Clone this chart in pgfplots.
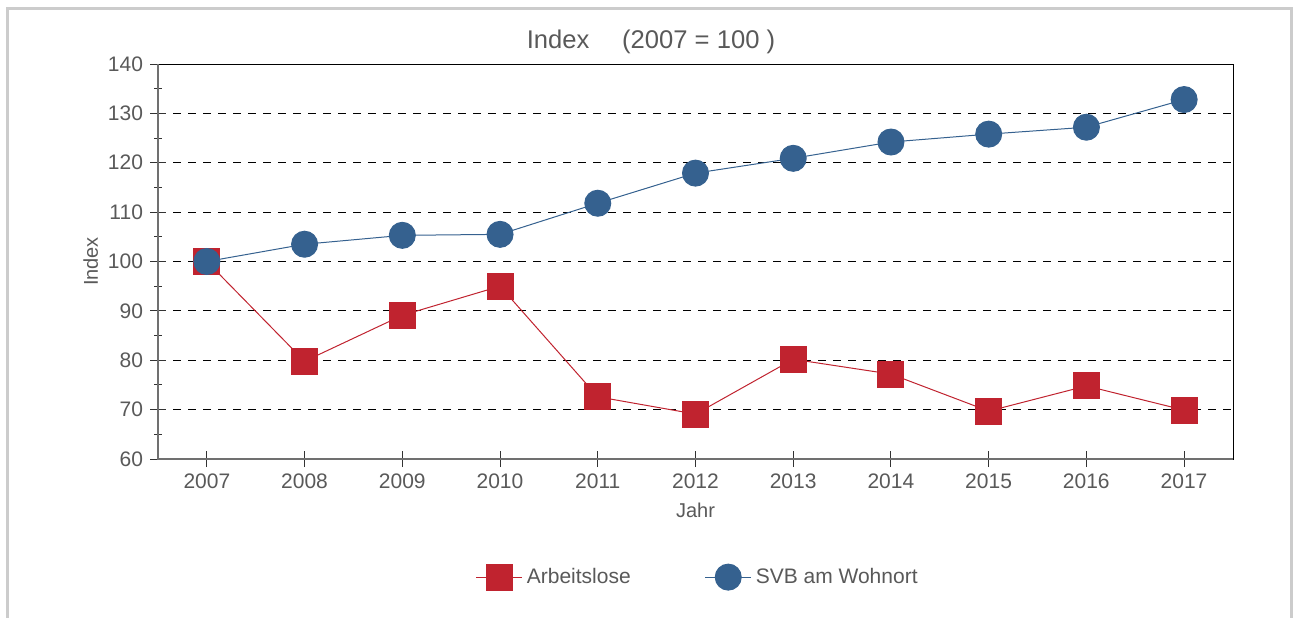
\documentclass[border=0pt]{standalone}
\usepackage{fontspec}
\setmainfont{Liberation Sans}
\usepackage{pgfplots}
\pgfplotsset{compat=1.18}
\definecolor{txtgray}{RGB}{89,89,89}
\definecolor{arbred}{RGB}{192,35,47}
\definecolor{svbblue}{RGB}{53,97,143}
\definecolor{framegray}{RGB}{204,204,204}
\definecolor{axgray}{RGB}{112,112,112}

\begin{document}
\begin{tikzpicture}[x=1pt,y=1pt]
\useasboundingbox (-79,-79) rectangle (570.5,229.5);
\draw[framegray, line width=1.5pt] (-75,-90) -- (-75,225.5) -- (566.5,225.5) -- (566.5,-90);
\begin{axis}[
  at={(0,0)}, anchor=south west,
  scale only axis, width=537.5pt, height=197.5pt,
  xmin=2006.5, xmax=2017.5, ymin=60, ymax=140,
  xtick={2007,...,2017}, ytick={60,70,...,140}, minor y tick num=1,
  xtick pos=bottom, ytick pos=left,
  /pgf/number format/assume math mode=true,
  x tick label style={/pgf/number format/1000 sep={}},
  tick label style={font=\fontsize{10.5}{12}\selectfont, text=txtgray},
  label style={font=\fontsize{10}{12}\selectfont, text=txtgray},
  ylabel style={xshift=0pt, yshift=-2pt},
  tick align=center, major tick length=8pt, minor tick length=4pt,
  tick style={black!80, line width=0.5pt},
  axis line style={black, line width=0.5pt},
  ymajorgrids, major grid style={black, line width=0.5pt, dash pattern=on 4pt off 3.5pt},
  xlabel={Jahr}, ylabel={Index},
  legend style={at={(rel axis cs:0.503,-0.299)}, anchor=center, draw=none,
    font=\fontsize{10.5}{12}\selectfont, text=txtgray,
    /tikz/every even column/.append style={column sep=35pt}},
  legend columns=2,
  legend image code/.code={\draw[mark repeat=2,mark phase=2] plot coordinates {(0pt,0pt)(11.5pt,0pt)(23pt,0pt)};},
  clip=false,
]
\addplot[arbred, line width=0.5pt, mark=square*, mark size=6.5pt, mark options={fill=arbred, draw=arbred}] coordinates {
  (2007,100) (2008,79.8) (2009,89.1) (2010,95.0) (2011,72.6) (2012,69.1)
  (2013,80.2) (2014,77.2) (2015,69.7) (2016,74.8) (2017,69.9)};
\addlegendentry{Arbeitslose}
\addplot[svbblue, line width=0.5pt, mark=*, mark size=6.5pt, mark options={fill=svbblue, draw=svbblue}] coordinates {
  (2007,100) (2008,103.5) (2009,105.3) (2010,105.5) (2011,111.8) (2012,117.9)
  (2013,120.9) (2014,124.2) (2015,125.8) (2016,127.2) (2017,132.8)};
\addlegendentry{SVB am Wohnort}
\draw[axgray, line width=1pt] (rel axis cs:0,1) -- (rel axis cs:0,0) -- (rel axis cs:1,0);
\node[font=\fontsize{12.8}{14}\selectfont, text=txtgray] at (rel axis cs:0.4586,1.0557) {Index\quad\ (2007 = 100 )};
\end{axis}
\end{tikzpicture}
\end{document}
